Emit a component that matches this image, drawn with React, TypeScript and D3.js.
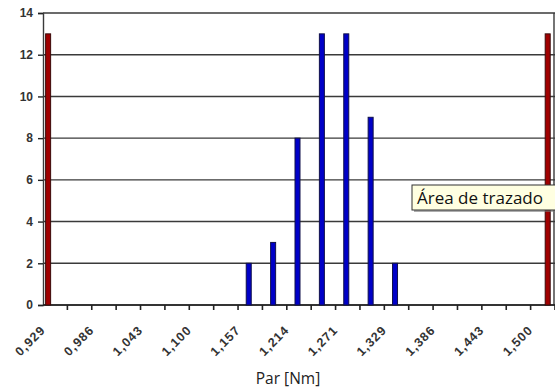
import * as d3 from "d3";
import { useEffect, useRef } from "react";

// bins of the torque histogram (label = lower edge of the bin)
const bins = [
  "0,929", "0,957", "0,986", "1,014", "1,043", "1,071", "1,100", "1,128",
  "1,157", "1,186", "1,214", "1,243", "1,271", "1,300", "1,329", "1,357",
  "1,386", "1,414", "1,443", "1,471", "1,500",
];
const counts = [0, 0, 0, 0, 0, 0, 0, 0, 2, 3, 8, 13, 13, 9, 2, 0, 0, 0, 0, 0, 0];

// specification limits (red bars), in Nm
const limitPos = [0.935, 1.52];
const limitVal = [13, 13];

const yTicks = [0, 2, 4, 6, 8, 10, 12, 14];

export default function App() {
  const ref = useRef<SVGSVGElement>(null);

  useEffect(() => {
    const svg = d3.select(ref.current);
    svg.selectAll("*").remove();

    const left = 43, right = 555, top = 13, bottom = 305;

    const X = d3.scaleBand<string>().domain(bins).range([left, right]).padding(0);
    const Xn = d3.scaleLinear()
      .domain([0.929, 1.5])
      .range([X("0,929")!, X("1,500")!]);
    const Y = d3.scaleLinear().domain([0, 14]).range([bottom, top]);

    // gridlines
    svg.append("g")
      .selectAll("line")
      .data(yTicks)
      .join("line")
      .attr("x1", left).attr("x2", right)
      .attr("y1", (d) => Y(d)).attr("y2", (d) => Y(d))
      .attr("stroke", "#3a3a3a")
      .attr("stroke-width", 1.4);

    // right border
    svg.append("line")
      .attr("x1", right - 1).attr("x2", right - 1)
      .attr("y1", top).attr("y2", bottom)
      .attr("stroke", "#3a3a3a").attr("stroke-width", 1.4);

    // y axis
    const gy = svg.append("g")
      .attr("transform", `translate(${left},0)`)
      .call(d3.axisLeft(Y).tickValues(yTicks).tickSize(5).tickPadding(5));
    gy.select(".domain").attr("stroke", "#3a3a3a").attr("stroke-width", 1.4);
    gy.selectAll(".tick line").attr("stroke", "#222").attr("stroke-width", 1.4);
    gy.selectAll("text")
      .attr("font-family", "Arial, 'Liberation Sans', sans-serif")
      .attr("font-size", 12)
      .attr("font-weight", "bold")
      .attr("fill", "#333");

    // x axis: ticks at bin edges
    const edges = bins.map((b) => X(b)!).concat([right]);
    svg.append("line")
      .attr("x1", left).attr("x2", right)
      .attr("y1", bottom).attr("y2", bottom)
      .attr("stroke", "#222").attr("stroke-width", 1.6);
    svg.append("g")
      .selectAll("line")
      .data(edges.slice(1))
      .join("line")
      .attr("x1", (d) => d).attr("x2", (d) => d)
      .attr("y1", bottom).attr("y2", bottom + 5)
      .attr("stroke", "#222").attr("stroke-width", 1.6);

    svg.append("g")
      .selectAll("text")
      .data(bins.filter((_, i) => i % 2 === 0))
      .join("text")
      .attr("transform", (d) => `translate(${X(d)! + 3},${bottom + 26}) rotate(-45)`)
      .attr("text-anchor", "end")
      .attr("font-family", "Arial, 'Liberation Sans', sans-serif")
      .attr("font-size", 12.5)
      .attr("font-weight", "bold")
      .attr("letter-spacing", 1)
      .attr("fill", "#333")
      .text((d) => d);

    // histogram bars
    const bw = 5;
    svg.append("g")
      .selectAll("rect")
      .data(bins.map((b, i) => ({ b, v: counts[i] })).filter((d) => d.v > 0))
      .join("rect")
      .attr("x", (d) => X(d.b)! + X.bandwidth() / 2 - bw / 2 - 1.5)
      .attr("y", (d) => Y(d.v))
      .attr("width", bw)
      .attr("height", (d) => Y(0) - Y(d.v))
      .attr("fill", "#0000c8")
      .attr("stroke", "#10104a")
      .attr("stroke-width", 1);

    // limit bars
    svg.append("g")
      .selectAll("rect")
      .data(limitPos.map((p, i) => ({ p, v: limitVal[i] })))
      .join("rect")
      .attr("x", (d) => Xn(d.p) - bw / 2)
      .attr("y", (d) => Y(d.v))
      .attr("width", bw)
      .attr("height", (d) => Y(0) - Y(d.v))
      .attr("fill", "#a00000")
      .attr("stroke", "#3a0a0a")
      .attr("stroke-width", 1);

    // axis title
    svg.append("text")
      .attr("x", 288).attr("y", 384)
      .attr("text-anchor", "middle")
      .attr("font-family", "'Open Sans', 'Noto Sans', sans-serif")
      .attr("font-size", 15.5)
      .attr("fill", "#222")
      .text("Par [Nm]");

    // tooltip
    const tip = svg.append("g").attr("transform", "translate(412,185)");
    tip.append("rect")
      .attr("x", 2).attr("y", 2).attr("width", 150).attr("height", 25)
      .attr("fill", "#777").attr("opacity", 0.6);
    tip.append("rect")
      .attr("x", 0).attr("y", 0).attr("width", 150).attr("height", 25)
      .attr("fill", "#ffffe1").attr("stroke", "#333").attr("stroke-width", 1);
    tip.append("text")
      .attr("x", 5).attr("y", 18.5)
      .attr("font-family", "'Open Sans', 'Noto Sans', sans-serif")
      .attr("font-size", 17)
      .attr("fill", "#111")
      .text("Área de trazado");
  }, []);

  return (
    <div style={{ position: "fixed", left: 0, top: 0, background: "#fff" }}>
      <svg ref={ref} width={555} height={390} style={{ display: "block" }} />
    </div>
  );
}
